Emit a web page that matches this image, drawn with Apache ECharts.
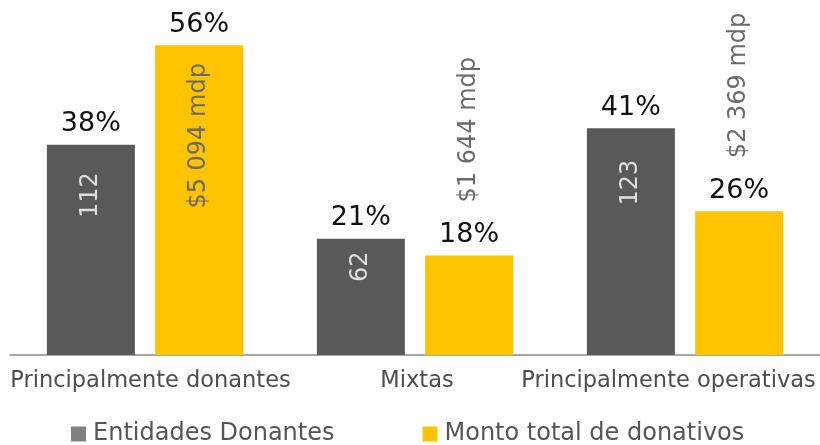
<!DOCTYPE html>
<html>
<head>
<meta charset="utf-8">
<script src="https://cdn.jsdelivr.net/npm/echarts@6/dist/echarts.min.js"></script>
<style>html,body{margin:0;padding:0;background:#fff}#c{width:820px;height:445px}</style>
</head>
<body>
<div id="c"></div>
<script>
const categories = ['Principalmente donantes', 'Mixtas', 'Principalmente operativas'];
const seriesNames = ['Entidades Donantes', 'Monto total de donativos'];
const entidadesPct = [38, 21, 41];
const montoPct = [56, 18, 26];
const entidadesCount = ['112', '62', '123'];
const montoLabels = ['$5 094 mdp', '$1 644 mdp', '$2 369 mdp'];

const FONT = 'DejaVu Sans';
const GREY = '#58595b';
const YELLOW = '#ffc400';

const chart = echarts.init(document.getElementById('c'), null, {renderer: 'canvas'});

const pctLabel = {
  show: true, position: 'top', distance: 7,
  formatter: p => p.value + '%',
  color: '#111', fontSize: 27, fontFamily: FONT
};

const montoInside = {
  show: true, rotate: 90, position: ['50%', 18], align: 'right', verticalAlign: 'middle',
  color: '#6a6a6a', fontSize: 24, fontFamily: FONT
};
const montoOutside = {
  show: true, rotate: 90, position: 'top', distance: 53, align: 'left', verticalAlign: 'middle',
  color: '#6a6a6a', fontSize: 24, fontFamily: FONT
};

const catPad = [[0, 0, 0, 11], [0, 0, 0, 4], [0, 33, 0, 0]];

chart.setOption({
  animation: false,
  grid: {left: 10, right: 0, top: 23, bottom: 90},
  xAxis: [{
    type: 'category', data: categories,
    axisLine: {lineStyle: {color: '#8a8a8a', width: 1.5}},
    axisTick: {show: false},
    axisLabel: {
      margin: 15, interval: 0,
      formatter: (v, i) => '{c' + i + '|' + v + '}',
      rich: {
        c0: {color: '#4d4d4d', fontSize: 22.5, fontFamily: FONT, padding: catPad[0]},
        c1: {color: '#4d4d4d', fontSize: 22.5, fontFamily: FONT, padding: catPad[1]},
        c2: {color: '#4d4d4d', fontSize: 22.5, fontFamily: FONT, padding: catPad[2]}
      }
    }
  }, {
    type: 'category', data: categories, show: false
  }],
  yAxis: {type: 'value', min: 0, max: 60, show: false, splitLine: {show: false}},
  legend: {
    data: [
      {name: seriesNames[0], itemStyle: {color: '#808085'}},
      {name: seriesNames[1], itemStyle: {color: YELLOW}}
    ],
    left: 66, top: 417, icon: 'rect', itemWidth: 15, itemHeight: 15, itemGap: 88,
    textStyle: {color: '#555', fontSize: 24, fontFamily: FONT, padding: [0, 0, 0, 2]}
  },
  series: [{
    name: seriesNames[0], type: 'bar', xAxisIndex: 0, data: entidadesPct,
    barWidth: 88, barGap: '23%', itemStyle: {color: GREY}, label: pctLabel
  }, {
    name: seriesNames[1], type: 'bar', xAxisIndex: 0, data: montoPct,
    barWidth: 88, barGap: '23%', itemStyle: {color: YELLOW}, label: pctLabel
  }, {
    name: 'countOverlay', type: 'bar', xAxisIndex: 1, silent: true, z: 5,
    data: entidadesPct, barWidth: 88, barGap: '23%',
    itemStyle: {color: 'rgba(0,0,0,0)'},
    label: {
      show: true, rotate: 90, position: ['50%', '24%'], align: 'center', verticalAlign: 'middle',
      formatter: p => entidadesCount[p.dataIndex],
      color: '#dedede', fontSize: 24, fontFamily: FONT
    }
  }, {
    name: 'montoOverlay', type: 'bar', xAxisIndex: 1, silent: true, z: 5,
    data: montoPct.map((v, i) => ({value: v, label: i === 0 ? montoInside : montoOutside})),
    barWidth: 88, barGap: '23%',
    itemStyle: {color: 'rgba(0,0,0,0)'},
    label: {show: true, formatter: p => montoLabels[p.dataIndex]}
  }]
});
</script>
</body>
</html>
